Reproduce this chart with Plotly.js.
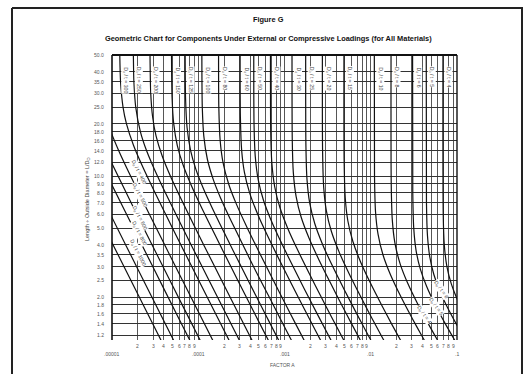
<!DOCTYPE html>
<html><head><meta charset="utf-8">
<script src="https://cdn.plot.ly/plotly-3.0.1.min.js"></script>
<style>html,body{margin:0;padding:0;background:#fff;}#chart{width:527px;height:374px;}</style>
</head><body><div id="chart"></div>
<script>
// Do/t values of the curves
const doT = [1000, 800, 600, 500, 400, 300, 250, 200, 150, 125, 100, 80, 60, 50, 40, 30, 25, 20, 15, 10, 8, 6, 5, 4];
// each curve: L/Do values and Factor A values
const L_1000 = [8, 4, 2, 1.1];
const A_1000 = [5.15e-6, 1.031e-5, 2.07e-5, 3.79e-5];
const L_800 = [8, 4, 2, 1.1];
const A_800 = [7.2e-6, 1.442e-5, 2.896e-5, 5.3e-5];
const L_600 = [12, 6, 3, 1.5, 1.1];
const A_600 = [7.38e-6, 1.479e-5, 2.967e-5, 5.97e-5, 8.18e-5];
const L_500 = [14, 7, 3.5, 1.75, 1.1];
const A_500 = [8.47e-6, 1.666e-5, 3.341e-5, 6.72e-5, 1.077e-4];
const L_400 = [25, 18, 14, 10, 6, 3.5, 2, 1.1];
const A_400 = [7.97e-6, 9.72e-6, 1.197e-5, 1.642e-5, 2.72e-5, 4.67e-5, 8.22e-5, 1.508e-4];
const L_300 = [50, 35, 25, 20, 15, 11, 8, 5, 3, 2, 1.1];
const A_300 = [1.231e-5, 1.257e-5, 1.342e-5, 1.472e-5, 1.779e-5, 2.326e-5, 3.155e-5, 5.035e-5, 8.41e-5, 1.268e-4, 2.33e-4];
const L_250 = [50, 35, 25, 18, 14, 10, 7, 4, 2.5, 1.6, 1.1];
const A_250 = [1.769e-5, 1.795e-5, 1.884e-5, 2.136e-5, 2.519e-5, 3.363e-5, 4.74e-5, 8.28e-5, 1.331e-4, 2.093e-4, 3.069e-4];
const L_200 = [50, 30, 22, 17, 13, 10, 7, 4, 2.5, 1.6, 1.1];
const A_200 = [2.759e-5, 2.814e-5, 2.956e-5, 3.246e-5, 3.829e-5, 4.75e-5, 6.644e-5, 1.158e-4, 1.862e-4, 2.931e-4, 4.303e-4];
const L_150 = [50, 28, 20, 15, 11.5, 9, 6.5, 4.5, 3, 2, 1.4, 1.1];
const A_150 = [4.898e-5, 4.975e-5, 5.196e-5, 5.721e-5, 6.707e-5, 8.17e-5, 1.105e-4, 1.589e-4, 2.388e-4, 3.604e-4, 5.19e-4, 6.655e-4];
const L_125 = [50, 28, 19, 14, 11, 8.5, 6.5, 4.5, 3, 2, 1.4, 1.1];
const A_125 = [7.049e-5, 7.126e-5, 7.423e-5, 8.157e-5, 9.351e-5, 1.143e-4, 1.46e-4, 2.092e-4, 3.143e-4, 4.747e-4, 6.84e-4, 8.778e-4];
const L_100 = [50, 25, 17, 12.5, 9.5, 7.5, 5.5, 4, 2.8, 2, 1.5, 1.1];
const A_100 = [1.101e-4, 1.114e-4, 1.16e-4, 1.276e-4, 1.498e-4, 1.809e-4, 2.41e-4, 3.297e-4, 4.686e-4, 6.65e-4, 8.935e-4, 1.232e-3];
const L_80 = [50, 25, 16, 12, 9, 7, 5, 3.5, 2.5, 1.8, 1.4, 1.1];
const A_80 = [1.72e-4, 1.732e-4, 1.796e-4, 1.937e-4, 2.252e-4, 2.729e-4, 3.714e-4, 5.281e-4, 7.417e-4, 1.038e-3, 1.346e-3, 1.731e-3];
const L_60 = [50, 22, 14, 10.5, 8, 6, 4.5, 3.2, 2.3, 1.7, 1.3, 1.1];
const A_60 = [3.057e-4, 3.079e-4, 3.189e-4, 3.432e-4, 3.941e-4, 4.904e-4, 6.383e-4, 8.934e-4, 1.248e-3, 1.704e-3, 2.253e-3, 2.685e-3];
const L_50 = [50, 20, 13, 9.5, 7.3, 5.5, 4.1, 3, 2.2, 1.6, 1.1];
const A_50 = [4.401e-4, 4.434e-4, 4.58e-4, 4.96e-4, 5.681e-4, 7.048e-4, 9.232e-4, 1.257e-3, 1.721e-3, 2.393e-3, 3.548e-3];
const L_40 = [50, 18, 12, 8.7, 6.6, 5, 3.7, 2.7, 2, 1.5, 1.1];
const A_40 = [6.876e-4, 6.926e-4, 7.125e-4, 7.687e-4, 8.828e-4, 1.0885e-3, 1.436e-3, 1.962e-3, 2.664e-3, 3.596e-3, 4.995e-3];
const L_30 = [50, 16, 10.5, 7.6, 5.8, 4.4, 3.3, 2.4, 1.8, 1.4, 1.1];
const A_30 = [1.222e-3, 1.231e-3, 1.265e-3, 1.364e-3, 1.558e-3, 1.917e-3, 2.495e-3, 3.427e-3, 4.606e-3, 6.004e-3, 7.773e-3];
const L_25 = [50, 15, 9.6, 7, 5.3, 4, 3, 2.2, 1.6, 1.3, 1.1];
const A_25 = [1.76e-3, 1.771e-3, 1.822e-3, 1.959e-3, 2.247e-3, 2.779e-3, 3.625e-3, 4.949e-3, 6.887e-3, 8.595e-3, 1.0297e-2];
const L_20 = [50, 14, 8.6, 6.3, 4.8, 3.6, 2.7, 2, 1.5, 1.2, 1.1];
const A_20 = [2.75e-3, 2.764e-3, 2.848e-3, 3.058e-3, 3.492e-3, 4.34e-3, 5.672e-3, 7.684e-3, 1.0386e-2, 1.3215e-2, 1.4543e-2];
const L_15 = [50, 12, 7.5, 5.5, 4.2, 3.2, 2.4, 1.8, 1.4, 1.1];
const A_15 = [4.889e-3, 4.916e-3, 5.061e-3, 5.431e-3, 6.195e-3, 7.605e-3, 9.947e-3, 1.3351e-2, 1.7431e-2, 2.2746e-2];
const L_10 = [50, 10, 6.2, 4.6, 3.5, 2.7, 2, 1.5, 1.2, 1.1];
const A_10 = [0.011, 0.011056, 0.011364, 0.012162, 0.01388, 0.016889, 0.02246, 0.03041, 0.03893, 0.04293];
const L_8 = [50, 9, 5.6, 4.1, 3.1, 2.4, 1.8, 1.4, 1.1];
const A_8 = [0.017188, 0.017275, 0.017769, 0.019077, 0.021968, 0.026845, 0.035504, 0.046525, 0.06116];
const L_6 = [50, 8, 5, 3.7, 2.9, 2.3, 1.8, 1.4, 1.1];
const A_6 = [0.030556, 0.0307, 0.031506, 0.033584, 0.03759, 0.044508, 0.056008, 0.073287, 0.09676];
const L_5 = [50, 7, 4.5, 3.4, 2.7, 2.2, 1.8, 1.4, 1.1];
const A_5 = [0.044, 0.04425, 0.045492, 0.048418, 0.053896, 0.06244, 0.075038, 0.098, 0.1294];
const L_4 = [50, 6, 4, 3, 2.4, 2, 1.7, 1.4];
const A_4 = [0.06875, 0.06923, 0.071246, 0.076416, 0.085525, 0.098093, 0.11413, 0.1383];

const curveL = [L_1000, L_800, L_600, L_500, L_400, L_300, L_250, L_200, L_150, L_125, L_100, L_80, L_60, L_50, L_40, L_30, L_25, L_20, L_15, L_10, L_8, L_6, L_5, L_4];
const curveA = [A_1000, A_800, A_600, A_500, A_400, A_300, A_250, A_200, A_150, A_125, A_100, A_80, A_60, A_50, A_40, A_30, A_25, A_20, A_15, A_10, A_8, A_6, A_5, A_4];

// axis ticks
const xDecades = [0.00001, 0.0001, 0.001, 0.01, 0.1];
const xDecadeLabels = ['.00001', '.0001', '.001', '.01', '.1'];
const xMinorDigits = [2, 3, 4, 5, 6, 7, 8, 9];
const yTicks = [50, 40, 35, 30, 25, 20, 18, 16, 14, 12, 10, 9, 8, 7, 6, 5, 4, 3.5, 3, 2.5, 2, 1.8, 1.6, 1.4, 1.2];
const yTickLabels = ['50.0','40.0','35.0','30.0','25.0','20.0','18.0','16.0','14.0','12.0','10.0','9.0','8.0','7.0','6.0','5.0','4.0','3.5','3.0','2.5','2.0','1.8','1.6','1.4','1.2'];

// labels
const topLabelDoT = [300, 250, 200, 150, 125, 100, 80, 60, 50, 40, 30, 25, 20, 15, 10, 8, 6, 5, 4];
const leftLabelDoT = [400, 500, 600, 800, 1000];
const rightLabelDoT = [6, 5, 4];

const FONT = 'Liberation Sans, Arial, sans-serif';
const W = 527, H = 374, ML = 112, MR = 70, MT = 55, MB = 34;
const PW = W - ML - MR, PH = H - MT - MB;
const px = v => (v - ML) / PW;
const py = v => 1 - (v - MT) / PH;

const traces = curveL.map((L, i) => ({
  x: curveA[i], y: L, type: 'scatter', mode: 'lines',
  line: {color: '#111', width: 1.2, shape: 'spline', smoothing: 0.7},
  hoverinfo: 'skip', showlegend: false
}));

const xGrid = [];
xDecades.slice(0, 4).forEach(d => { xGrid.push(d); xMinorDigits.forEach(m => xGrid.push(d * m)); });
xGrid.push(0.1);

const ann = [];
// y tick labels
yTicks.forEach((v, i) => ann.push({xref: 'paper', yref: 'y', x: px(106), y: Math.log10(v), text: yTickLabels[i],
  showarrow: false, xanchor: 'right', yanchor: 'middle', font: {family: FONT, size: 5, color: '#555'}}));
// x labels
xDecades.forEach((d, i) => ann.push({xref: 'x', yref: 'paper', x: Math.log10(d), y: py(354), text: xDecadeLabels[i],
  showarrow: false, xanchor: 'center', yanchor: 'middle', font: {family: FONT, size: 5, color: '#555'}}));
xDecades.slice(0, 4).forEach(d => xMinorDigits.forEach(m => ann.push({xref: 'x', yref: 'paper', x: Math.log10(d * m), y: py(345.5),
  text: String(m), showarrow: false, xanchor: 'center', yanchor: 'middle', font: {family: FONT, size: 5, color: '#555'}})));
// top vertical labels
topLabelDoT.forEach(D => {
  const i = doT.indexOf(D);
  ann.push({xref: 'x', yref: 'paper', x: Math.log10(curveA[i][0]), y: py(66), xshift: 1.5, text: 'D<sub>o</sub> / t = ' + D,
    textangle: 90, showarrow: false, xanchor: 'left', yanchor: 'top', bgcolor: '#fff', borderpad: 0,
    font: {family: FONT, size: 5.2, color: '#444'}});
});
// lower-left slanted labels
const leftPos = [[129, 172], [130, 195], [130, 218], [129, 248], [127, 268]];
leftLabelDoT.forEach((D, k) => ann.push({xref: 'paper', yref: 'paper', x: px(leftPos[k][0]), y: py(leftPos[k][1]),
  text: 'D<sub>o</sub> / t = ' + D, textangle: 63, showarrow: false, bgcolor: '#fff', borderpad: 0,
  font: {family: FONT, size: 5.2, color: '#444'}}));
// lower-right slanted labels
const rightPos = [[451, 301], [446, 318], [434, 326]];
rightLabelDoT.forEach((D, k) => ann.push({xref: 'paper', yref: 'paper', x: px(rightPos[k][0]), y: py(rightPos[k][1]),
  text: 'D<sub>o</sub> / t = ' + D, textangle: 55, showarrow: false, bgcolor: '#fff', borderpad: 0,
  font: {family: FONT, size: 5.2, color: '#444'}}));
// titles
ann.push({xref: 'paper', yref: 'paper', x: px(268.5), y: py(19), text: '<b>Figure G</b>', showarrow: false,
  xanchor: 'center', yanchor: 'middle', font: {family: FONT, size: 7.4, color: '#111'}});
ann.push({xref: 'paper', yref: 'paper', x: px(268.5), y: py(38), text: '<b>Geometric Chart for Components Under External or Compressive Loadings (for All Materials)</b>', showarrow: false,
  xanchor: 'center', yanchor: 'middle', font: {family: FONT, size: 7.4, color: '#111'}});
ann.push({xref: 'paper', yref: 'paper', x: px(87), y: py(199), text: 'Length ÷ Outside Diameter = L/D<sub>O</sub>', textangle: -90,
  showarrow: false, xanchor: 'center', yanchor: 'middle', font: {family: FONT, size: 5.5, color: '#444'}});
ann.push({xref: 'paper', yref: 'paper', x: px(282), y: py(365), text: 'FACTOR A', showarrow: false,
  xanchor: 'center', yanchor: 'middle', font: {family: FONT, size: 5, color: '#555'}});

const shapes = [
  // page frame
  {type: 'line', xref: 'paper', yref: 'paper', x0: px(12), x1: px(12), y0: py(8), y1: py(380), line: {color: '#222', width: 2}},
  {type: 'line', xref: 'paper', yref: 'paper', x0: px(12), x1: px(523), y0: py(8), y1: py(8), line: {color: '#222', width: 2}},
  {type: 'line', xref: 'paper', yref: 'paper', x0: px(522), x1: px(522), y0: py(8), y1: py(380), line: {color: '#222', width: 2}},
  // plot frame
  {type: 'line', xref: 'paper', yref: 'paper', x0: 0, x1: 0, y0: 0, y1: 1, line: {color: '#111', width: 1.6}},
  {type: 'line', xref: 'paper', yref: 'paper', x0: 0, x1: 1, y0: 1, y1: 1, line: {color: '#111', width: 1.8}},
  {type: 'line', xref: 'paper', yref: 'paper', x0: 1, x1: 1, y0: 0, y1: 1, line: {color: '#111', width: 1.4}}
];

const layout = {
  width: W, height: H, margin: {l: ML, r: MR, t: MT, b: MB},
  paper_bgcolor: '#fff', plot_bgcolor: '#fff', showlegend: false,
  xaxis: {type: 'log', range: [-5, -1], tickmode: 'array', tickvals: xGrid, showticklabels: false,
    showgrid: true, gridcolor: '#444', gridwidth: 0.9, zeroline: false, showline: false, ticks: ''},
  yaxis: {type: 'log', range: [Math.log10(1.13), Math.log10(50)], tickmode: 'array', tickvals: yTicks, showticklabels: false,
    showgrid: true, gridcolor: '#333', gridwidth: 1, zeroline: false, showline: false, ticks: ''},
  annotations: ann, shapes: shapes
};

Plotly.newPlot('chart', traces, layout, {displayModeBar: false, staticPlot: true});
</script></body></html>
